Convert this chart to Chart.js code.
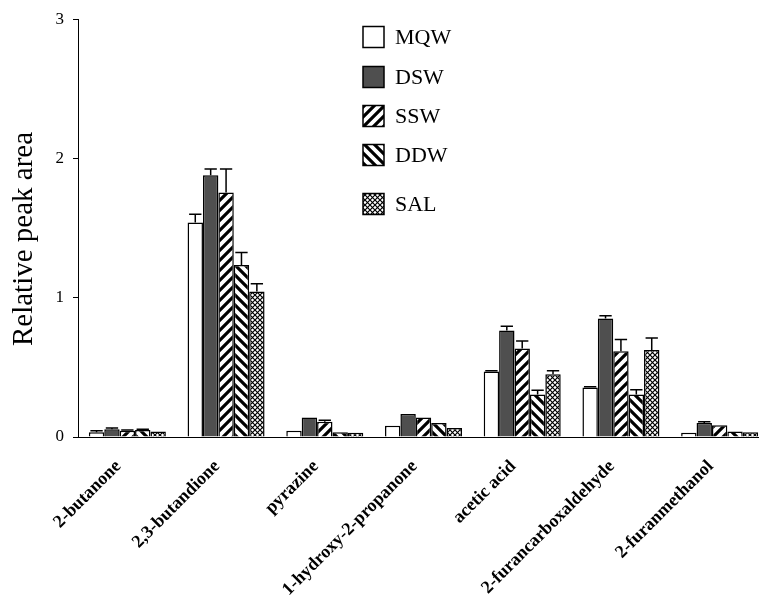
<!DOCTYPE html>
<html>
<head>
<meta charset="utf-8">
<title>Relative peak area</title>
<script src="https://cdn.jsdelivr.net/npm/chart.js@4.4.1/dist/chart.umd.min.js"></script>
<style>
  html, body { margin: 0; padding: 0; background: #fff; overflow: hidden; }
  #wrap { position: relative; width: 772px; height: 599px; }
</style>
</head>
<body>
<div id="wrap"><canvas id="peakChart" width="772" height="599"></canvas></div>
<script>
// compounds on the x axis
const categories = ['2-butanone', '2,3-butandione', 'pyrazine', '1-hydroxy-2-propanone',
                    'acetic acid', '2-furancarboxaldehyde', '2-furanmethanol'];
const seriesNames = ['MQW', 'DSW', 'SSW', 'DDW', 'SAL'];
const yTicks = [0, 1, 2, 3];

// bar heights
const mqw = [0.035, 1.54, 0.045, 0.08, 0.47, 0.355, 0.03];
const dsw = [0.055, 1.88, 0.14, 0.165, 0.765, 0.85, 0.10];
const ssw = [0.045, 1.755, 0.11, 0.14, 0.635, 0.615, 0.085];
const ddw = [0.05, 1.235, 0.035, 0.10, 0.305, 0.305, 0.04];
const sal = [0.04, 1.045, 0.03, 0.065, 0.45, 0.625, 0.035];

// upper error bars (only drawn above the bar)
const mqwErr = [0.01, 0.06, 0, 0, 0.005, 0.005, 0];
const dswErr = [0.01, 0.045, 0, 0, 0.03, 0.02, 0.01];
const sswErr = [0.005, 0.17, 0.01, 0, 0.055, 0.085, 0];
const ddwErr = [0.005, 0.09, 0, 0, 0.03, 0.035, 0];
const salErr = [0, 0.055, 0, 0, 0.025, 0.085, 0];

const SERIF = '"Liberation Serif", "DejaVu Serif", serif';
const ctx = document.getElementById('peakChart').getContext('2d');

// small tiles for the hatched fills
function tile(size, draw) {
    const c = document.createElement('canvas');
    c.width = c.height = size;
    const g = c.getContext('2d');
    g.fillStyle = '#fff';
    g.fillRect(0, 0, size, size);
    g.strokeStyle = '#000';
    draw(g, size);
    return ctx.createPattern(c, 'repeat');
}

const fwdStripe = tile(10, (g, s) => {
    g.lineWidth = 3.2;
    g.beginPath();
    g.moveTo(0, s); g.lineTo(s, 0);
    g.moveTo(-s / 2, s / 2); g.lineTo(s / 2, -s / 2);
    g.moveTo(s / 2, 3 * s / 2); g.lineTo(3 * s / 2, s / 2);
    g.stroke();
});

const backStripe = tile(10, (g, s) => {
    g.lineWidth = 3.2;
    g.beginPath();
    g.moveTo(0, 0); g.lineTo(s, s);
    g.moveTo(-s / 2, s / 2); g.lineTo(s / 2, 3 * s / 2);
    g.moveTo(s / 2, -s / 2); g.lineTo(3 * s / 2, s / 2);
    g.stroke();
});

const crossHatch = tile(5, (g, s) => {
    g.lineWidth = 1.2;
    g.beginPath();
    g.moveTo(0, 0); g.lineTo(s, s);
    g.moveTo(0, s); g.lineTo(s, 0);
    g.stroke();
});

const fills = ['#ffffff', '#4f4f4f', fwdStripe, backStripe, crossHatch];
const values = [mqw, dsw, ssw, ddw, sal];
const errors = [mqwErr, dswErr, sswErr, ddwErr, salErr];

// draws the capped upper error bars through the y scale
const errorBars = {
    id: 'errorBars',
    afterDatasetsDraw(chart) {
        const c = chart.ctx;
        const y = chart.scales.y;
        c.save();
        c.strokeStyle = '#000';
        c.lineWidth = 1.5;
        chart.data.datasets.forEach((ds, i) => {
            const meta = chart.getDatasetMeta(i);
            meta.data.forEach((bar, j) => {
                const err = ds.errors[j];
                if (!err) return;
                const top = y.getPixelForValue(ds.data[j] + err);
                const half = bar.width * 0.4;
                c.beginPath();
                c.moveTo(bar.x, bar.y);
                c.lineTo(bar.x, top);
                c.moveTo(bar.x - half, top);
                c.lineTo(bar.x + half, top);
                c.stroke();
            });
        });
        c.restore();
    }
};

// legend column inside the plot, like the original
const boxLegend = {
    id: 'boxLegend',
    afterDraw(chart, args, opts) {
        const c = chart.ctx;
        c.save();
        c.font = opts.font;
        c.textBaseline = 'middle';
        chart.data.datasets.forEach((ds, i) => {
            const cy = opts.rows[i];
            c.fillStyle = ds.backgroundColor;
            c.fillRect(opts.x, cy - opts.box / 2, opts.box, opts.box);
            c.lineWidth = 1.5;
            c.strokeStyle = '#000';
            c.strokeRect(opts.x, cy - opts.box / 2, opts.box, opts.box);
            c.fillStyle = '#000';
            c.fillText(ds.label, opts.textX, cy + 1);
        });
        c.restore();
    }
};

new Chart(ctx, {
    type: 'bar',
    data: {
        labels: categories,
        datasets: seriesNames.map((name, i) => ({
            label: name,
            data: values[i],
            errors: errors[i],
            backgroundColor: fills[i],
            borderColor: '#000',
            borderWidth: 1.5,
            categoryPercentage: 0.78,
            barPercentage: 1.0
        }))
    },
    options: {
        responsive: false,
        animation: false,
        layout: { padding: { top: 15, right: 3, bottom: 0, left: 0 } },
        plugins: {
            legend: { display: false },
            tooltip: { enabled: false },
            boxLegend: {
                x: 363,
                box: 21,
                textX: 395,
                rows: [37, 77, 116, 155, 204],
                font: '22px ' + SERIF
            }
        },
        scales: {
            x: {
                offset: true,
                grid: { display: false, drawTicks: false },
                border: { color: '#000', width: 1 },
                ticks: {
                    autoSkip: false,
                    maxRotation: 45,
                    minRotation: 45,
                    padding: 19,
                    labelOffset: -9,
                    color: '#000',
                    font: { family: SERIF, size: 18, weight: 'bold' }
                },
                afterFit: (scale) => { scale.height = 162; }
            },
            y: {
                min: yTicks[0],
                max: yTicks[yTicks.length - 1],
                afterBuildTicks: (scale) => { scale.ticks = yTicks.map(v => ({ value: v })); },
                grid: { drawOnChartArea: false, drawTicks: true, tickLength: 5, color: '#000', lineWidth: 1 },
                border: { color: '#000', width: 1 },
                ticks: {
                    padding: 9,
                    color: '#000',
                    font: { family: SERIF, size: 17 }
                },
                title: {
                    display: true,
                    text: 'Relative peak area   ',
                    color: '#000',
                    padding: { top: 7, bottom: 0 },
                    font: { family: SERIF, size: 29 }
                },
                afterFit: (scale) => { scale.width = 78; }
            }
        }
    },
    plugins: [errorBars, boxLegend]
});
</script>
</body>
</html>
